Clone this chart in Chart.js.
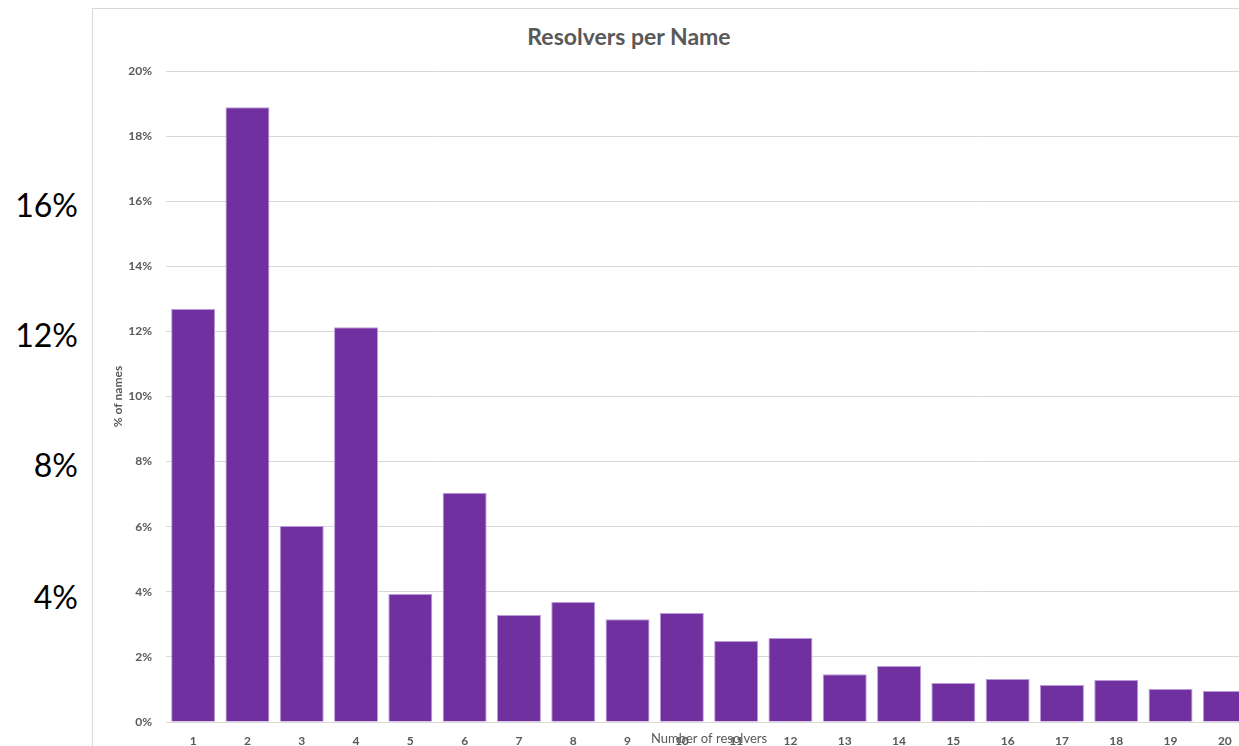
<!DOCTYPE html>
<html>
<head>
<meta charset="utf-8">
<script src="https://cdn.jsdelivr.net/npm/chart.js@4.4.1/dist/chart.umd.min.js"></script>
<style>
  html, body { margin: 0; padding: 0; width: 1239px; height: 746px; overflow: hidden; background: #fff; }
  .side { position: absolute; right: calc(1239px - 78px); font-family: Lato, sans-serif; font-size: 32px; color: #000; line-height: 1; transform: translateY(-50%); }
  #frame { position: absolute; left: 92px; top: 8px; width: 1300px; height: 800px; border-left: 1px solid #d9d9d9; border-top: 1px solid #d9d9d9; }
  #title { position: absolute; left: 429px; width: 400px; top: 22px; line-height: 28px; text-align: center; font-family: Lato, sans-serif; font-weight: bold; font-size: 23px; color: #595959; }
  #wrap { position: absolute; left: 92px; top: 8px; width: 1200px; height: 760px; }
</style>
</head>
<body>
<div class="side" style="top:205px">16%</div>
<div class="side" style="top:335px">12%</div>
<div class="side" style="top:465px">8%</div>
<div class="side" style="top:597px">4%</div>
<div id="frame"></div>
<div id="title">Resolvers per Name</div>
<div id="wrap"><canvas id="resolverChart"></canvas></div>
<script>
const resolverCounts = ['1', '2', '3', '4', '5', '6', '7', '8', '9', '10', '11', '12', '13', '14', '15', '16', '17', '18', '19', '20'];
const pctOfNames = [12.69, 18.89, 6.02, 12.13, 3.93, 7.04, 3.29, 3.69, 3.16, 3.35, 2.49, 2.58, 1.47, 1.72, 1.20, 1.32, 1.14, 1.29, 1.01, 0.95];
const yTicks = [0, 2, 4, 6, 8, 10, 12, 14, 16, 18, 20];

const textGray = '#595959';
const gridGray = '#d9d9d9';

const ctx = document.getElementById('resolverChart').getContext('2d');
new Chart(ctx, {
  type: 'bar',
  data: {
    labels: resolverCounts,
    datasets: [{
      data: pctOfNames,
      backgroundColor: '#7030a0',
      borderColor: '#b99ad6',
      borderWidth: 1,
      categoryPercentage: 1,
      barPercentage: 0.81
    }]
  },
  options: {
    responsive: true,
    maintainAspectRatio: false,
    animation: false,
    layout: { padding: { left: 0, top: 63, right: 40, bottom: 0 } },
    plugins: {
      legend: { display: false },
      tooltip: { enabled: false }
    },
    scales: {
      x: {
        grid: { display: false, drawTicks: false },
        border: { display: false },
        ticks: { color: textGray, padding: 12, maxRotation: 0, autoSkip: false, font: { family: 'Lato', weight: 'bold', size: 12 } },
        title: { display: true, text: 'Number of resolvers', color: textGray, padding: { top: 0, bottom: 21 }, font: { family: 'Lato', size: 13 } },
        afterFit: (scale) => { scale.height = 46; }
      },
      y: {
        min: yTicks[0],
        max: yTicks[yTicks.length - 1],
        afterBuildTicks: (scale) => { scale.ticks = yTicks.map(v => ({ value: v })); },
        grid: { color: gridGray, drawTicks: false },
        border: { display: false },
        ticks: { color: textGray, padding: 14, font: { family: 'Lato', weight: 'bold', size: 12 }, callback: v => v + '%' },
        title: { display: true, text: '% of names', color: textGray, padding: { top: 19, bottom: 0 }, font: { family: 'Lato', weight: 'bold', size: 12 } },
        afterFit: (scale) => { scale.width = 74; }
      }
    }
  }
});
</script>
</body>
</html>
